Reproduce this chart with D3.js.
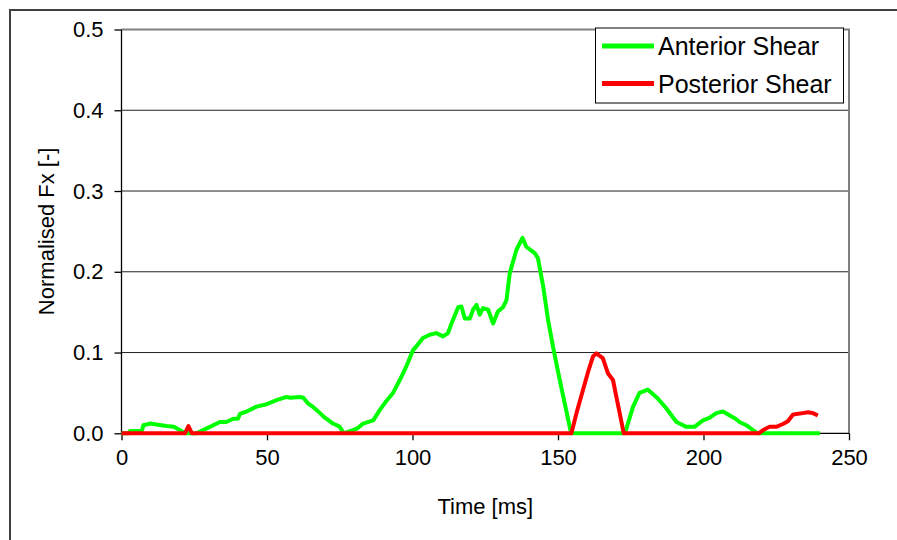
<!DOCTYPE html>
<html>
<head>
<meta charset="utf-8">
<script src="https://cdn.jsdelivr.net/npm/d3@7"></script>
<style>
  html, body { margin: 0; padding: 0; background: #fff; }
  svg { display: block; font-family: "Liberation Sans", Arial, sans-serif; }
</style>
</head>
<body>
<svg id="chart" width="897" height="540"></svg>
<script>
// ---- data ----
const xTicks = [0, 50, 100, 150, 200, 250];
const yTicks = [0.0, 0.1, 0.2, 0.3, 0.4, 0.5];

const anteriorT = [0,2.5,3,7,7.5,9.8,12,15.5,18,20,21.8,24,25.8,28,30.4,33.8,36,38.4,40,40.7,43,46.4,49.9,53.3,56.7,58,61.3,62.5,64.1,66,68.2,70,72.7,74,75,76.4,78,79.6,81,83,86.5,88.8,91,93.3,95.5,97.9,100.2,101.4,103.6,105.9,108.2,110.5,112.2,113.4,115.7,116.8,118,119.7,120.8,122,123.1,124.2,126,127.7,129.4,131.1,132.3,133.4,135.7,137.8,139.1,142,143.1,144.9,146.6,148.3,150.6,154.5,173,175.8,178,180.9,184.3,187.2,190.7,194.1,196.9,199.8,202,204.4,206.7,209.5,211,212.4,214.7,217,218.7,240];
const anteriorV = [0,0,0.003,0.003,0.010,0.012,0.011,0.009,0.008,0.004,0,0,0,0.004,0.008,0.014,0.014,0.018,0.018,0.024,0.027,0.033,0.036,0.041,0.045,0.044,0.045,0.044,0.037,0.032,0.025,0.019,0.012,0.010,0.008,0,0.002,0.004,0.006,0.012,0.016,0.029,0.040,0.050,0.065,0.083,0.103,0.108,0.118,0.122,0.124,0.120,0.124,0.136,0.156,0.157,0.142,0.142,0.153,0.159,0.147,0.155,0.153,0.136,0.151,0.156,0.165,0.198,0.227,0.242,0.231,0.223,0.217,0.182,0.140,0.107,0.066,0,0,0.033,0.050,0.054,0.043,0.031,0.014,0.008,0.008,0.016,0.019,0.025,0.027,0.021,0.018,0.014,0.010,0.004,0,0];

const posteriorT = [0,21.8,23,24.2,154.6,156.5,158.6,160.5,162,163.2,165.4,167.2,168.9,170,171.2,172.6,219,220.5,222.7,225,227.3,229,230.7,232,234.1,236,237.6,239.3];
const posteriorV = [0,0,0.009,0,0,0.027,0.054,0.078,0.095,0.099,0.093,0.074,0.066,0.046,0.025,0,0,0.004,0.008,0.008,0.0115,0.015,0.023,0.024,0.025,0.026,0.025,0.022];

const seriesNames = ["Anterior Shear", "Posterior Shear"];
const seriesColors = ["#00ff00", "#ff0000"];
const xTitle = "Time [ms]";
const yTitle = "Normalised Fx [-]";

// ---- layout ----
const svg = d3.select("#chart");
const L = 121.5, R = 849, T = 29.5, B = 433.3;

const x = d3.scaleLinear().domain([0, 250]).range([L, R]);
const y = d3.scaleLinear().domain([0, 0.5]).range([B, T]);

// outer frame
svg.append("rect").attr("x", 10).attr("y", 10).attr("width", 900).attr("height", 540)
  .attr("fill", "none").attr("stroke", "#404040").attr("stroke-width", 2);

// gridlines
svg.append("g").selectAll("line").data(yTicks.filter(d => d > 0 && d < 0.5)).join("line")
  .attr("x1", L).attr("x2", R).attr("y1", d => y(d)).attr("y2", d => y(d))
  .attr("stroke", "#222").attr("stroke-width", 1);

// plot area top / right border (gray)
svg.append("path")
  .attr("d", `M${L},${T}H${R}V${B}`)
  .attr("fill", "none").attr("stroke", "#808080").attr("stroke-width", 2);

// axes
const yAxis = d3.axisLeft(y).tickValues(yTicks).tickFormat(d3.format(".1f")).tickSize(7).tickPadding(11);
const gy = svg.append("g").attr("transform", `translate(${L},0)`).call(yAxis);
const xAxis = d3.axisBottom(x).tickValues(xTicks).tickFormat(d3.format("d")).tickSize(7).tickPadding(9);
const gx = svg.append("g").attr("transform", `translate(0,${B})`).call(xAxis);
[gx, gy].forEach(g => {
  g.select(".domain").attr("stroke", "#000").attr("stroke-width", 1.3);
  g.selectAll(".tick line").attr("stroke", "#000").attr("stroke-width", 1.3);
  g.selectAll(".tick text").attr("font-size", 22).attr("fill", "#000")
    .attr("font-family", "'Liberation Sans', Arial, sans-serif");
});
gy.select(".domain").attr("d", `M0,${B}V${T}`);
gx.select(".domain").attr("d", `M${L},0H${R}`);

// series
const line = d3.line().x(d => x(d[0])).y(d => y(d[1]));
const antData = anteriorT.map((t, i) => [t, anteriorV[i]]);
const postData = posteriorT.map((t, i) => [t, posteriorV[i]]);
svg.append("path").datum(antData).attr("d", line)
  .attr("fill", "none").attr("stroke", seriesColors[0]).attr("stroke-width", 4).attr("stroke-linejoin", "round");
svg.append("path").datum(postData).attr("d", line)
  .attr("fill", "none").attr("stroke", seriesColors[1]).attr("stroke-width", 4).attr("stroke-linejoin", "round");

// axis titles
svg.append("text").attr("x", (L + R) / 2).attr("y", 514).attr("text-anchor", "middle")
  .attr("font-size", 22).attr("fill", "#000").text(xTitle);
svg.append("text").attr("transform", `translate(54,${(T + B) / 2}) rotate(-90)`).attr("text-anchor", "middle")
  .attr("font-size", 22).attr("fill", "#000").text(yTitle);

// legend
const lg = svg.append("g");
lg.append("rect").attr("x", 595.5).attr("y", 28).attr("width", 248).attr("height", 75)
  .attr("fill", "#fff").attr("stroke", "#000").attr("stroke-width", 1);
seriesNames.forEach((name, i) => {
  const yy = 46 + i * 37.5;
  lg.append("line").attr("x1", 602).attr("x2", 654).attr("y1", yy).attr("y2", yy)
    .attr("stroke", seriesColors[i]).attr("stroke-width", 5);
  lg.append("text").attr("x", 658).attr("y", yy + 9).attr("font-size", 25).attr("fill", "#000").text(name);
});
</script>
</body>
</html>
